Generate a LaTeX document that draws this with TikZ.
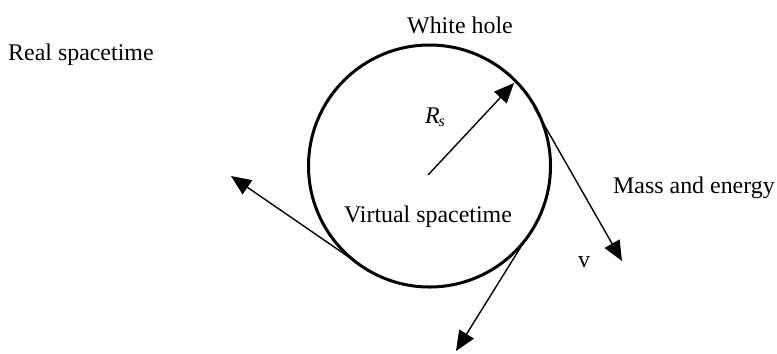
\documentclass[tikz,border=0pt]{standalone}
\usepackage{fontspec}
\setmainfont{Liberation Serif}
\usetikzlibrary{arrows.meta}
\begin{document}
\begin{tikzpicture}[x=1bp,y=-1bp,
  lbl/.style={inner sep=0pt,font=\fontsize{24}{28}\selectfont},
  arr/.style={line width=1.4bp,-{Triangle[length=20bp,width=17bp]}},
  rim/.style={line width=3bp}]
\useasboundingbox (0,0) rectangle (777,353);
\node[rim,draw,circle,minimum size=242bp,inner sep=0pt] (c) at (429.5,166) {};
\coordinate (rs0) at (428,175);
\coordinate (rs1) at (514,83);
\draw[arr] (rs0) -- (rs1);
\coordinate (t1) at (534,107);
\coordinate (t1e) at (622,261);
\draw[arr] (t1) -- (t1e);
\coordinate (t2) at (356,262);
\coordinate (t2e) at (231,176);
\draw[arr] (t2) -- (t2e);
\coordinate (t3) at (527,237);
\coordinate (t3e) at (456,351);
\draw[arr] (t3) -- (t3e);
\node[lbl] (wh) at (460,25) {White hole};
\node[lbl,anchor=west] (rst) at (8,55) {Real spacetime};
\node[lbl,anchor=west] (me) at (613,188) {Mass and energy};
\node[lbl] (v) at (584,262) {v};
\node[lbl] (rs) at (435,117) {\textit{R}\kern-1pt\raisebox{-3bp}{\fontsize{16}{18}\selectfont\textit{s}}};
\node[lbl] (vs) at (428,217) {Virtual spacetime};
\end{tikzpicture}
\end{document}
